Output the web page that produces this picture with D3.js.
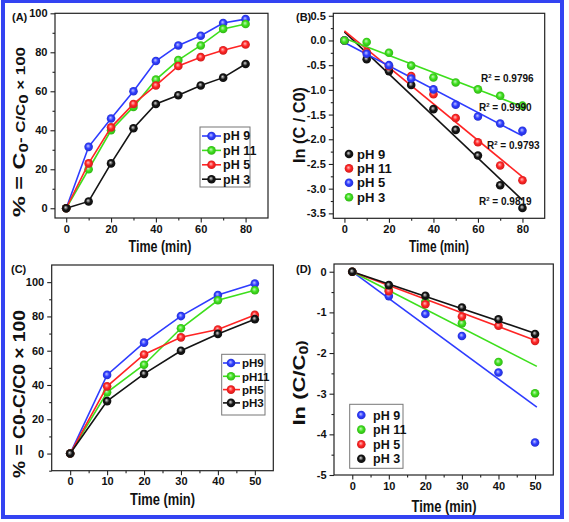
<!DOCTYPE html>
<html><head><meta charset="utf-8">
<script src="https://cdn.jsdelivr.net/npm/d3@7"></script>
<style>
body{margin:0;background:#fff}
svg{display:block}
text{font-family:"Liberation Sans Narrow","Arial Narrow","Liberation Sans",Arial,sans-serif;font-weight:bold;fill:#111}
</style>
</head><body>
<svg id="c" width="569" height="522"></svg>
<script>
// ---------- Panel A ----------
const timeA = [0,10,20,30,40,50,60,70,80];
const namesA = ["pH 9","pH 11","pH 5","pH 3"];
const pH9_A  = [0,31.5,46,60,75.5,83.5,88.5,95,97];
const pH11_A = [0,20,40,52,66,76,83.5,92,94.5];
const pH5_A  = [0,23,41.5,53.5,63,73,77.5,81,84];
const pH3_A  = [0,3.5,23,41,53.5,58,63,67,74];
const xTicksA = [0,20,40,60,80];
const yTicksA = [0,20,40,60,80,100];
// ---------- Panel B ----------
const timeB = [0,10,20,30,40,50,60,70,80];
const namesB = ["pH 9","pH 11","pH 5","pH 3"];
const pH9_B  = [0,-0.38,-0.62,-0.9,-1.39,-1.81,-2.33,-2.93,-3.39];
const pH11_B = [0,-0.23,-0.52,-0.72,-1.09,-1.57,-2.06,-2.53,-2.83];
const pH5_B  = [0,-0.27,-0.5,-0.77,-0.99,-1.3,-1.54,-1.68,-1.83];
const pH3_B  = [0,-0.03,-0.25,-0.51,-0.75,-0.85,-0.99,-1.12,-1.32];
const r2B = ["0.9819","0.9793","0.9990","0.9796"];
const xTicksB = [0,20,40,60,80];
const yTicksB = [0.5,0,-0.5,-1,-1.5,-2,-2.5,-3,-3.5];
// ---------- Panel C ----------
const timeC = [0,10,20,30,40,50];
const namesC = ["pH9","pH11","pH5","pH3"];
const pH9_C  = [0,45.9,64.7,80.2,92.5,99.2];
const pH11_C = [0,35.7,51.8,73.1,89.4,95.3];
const pH5_C  = [0,39.2,57.8,67.8,72.4,80.9];
const pH3_C  = [0,30.6,46.5,60,69.8,78.4];
const xTicksC = [0,10,20,30,40,50];
const yTicksC = [0,20,40,60,80,100];
// ---------- Panel D ----------
const timeD = [0,10,20,30,40,50];
const namesD = ["pH 9","pH 11","pH 5","pH 3"];
const pH9_D  = [0,-0.6,-1.04,-1.58,-2.48,-4.2];
const pH11_D = [0,-0.45,-0.74,-1.27,-2.22,-2.99];
const pH5_D  = [0,-0.48,-0.8,-1.1,-1.33,-1.7];
const pH3_D  = [0,-0.33,-0.59,-0.88,-1.17,-1.53];
const slopeD = [-0.066,-0.0461,-0.0337,-0.0303];
const fitEndD = 50.5;
const xTicksD = [0,10,20,30,40,50];
const yTicksD = [0,-1,-2,-3,-4,-5];

const C = {blue:"#2e3cff", green:"#3ddf1c", red:"#ff2424", black:"#141414"};

const svg = d3.select("#c");
const defs = svg.append("defs");
Object.entries(C).forEach(([k,col])=>{
  const g = defs.append("radialGradient").attr("id","g-"+k)
    .attr("cx","50%").attr("cy","50%").attr("r","55%").attr("fx","42%").attr("fy","38%");
  g.append("stop").attr("offset","0%").attr("stop-color", d3.interpolateRgb(col,"#fff")(k==="black"?0.85:0.7));
  g.append("stop").attr("offset","50%").attr("stop-color", col);
  g.append("stop").attr("offset","100%").attr("stop-color", d3.color(col).darker(0.7));
});

// outer blue frame
svg.append("rect").attr("x",3).attr("y",1).attr("width",559).attr("height",516)
  .attr("fill","none").attr("stroke","#3343f2").attr("stroke-width",4);

const R = 4.3;
function ball(g,cx,cy,key){
  g.append("circle").attr("cx",cx).attr("cy",cy).attr("r",R).attr("fill",`url(#g-${key})`);
}

function panel(o){
  const x = d3.scaleLinear().domain(o.xd).range([o.L,o.R]);
  const y = d3.scaleLinear().domain(o.yd).range([o.B,o.T]);
  const g = svg.append("g");
  // minor ticks
  g.append("g").attr("transform",`translate(0,${o.B})`)
    .call(d3.axisBottom(x).tickValues(o.xm).tickSize(2.5).tickSizeOuter(0).tickFormat(""))
    .call(s=>s.select(".domain").remove());
  g.append("g").attr("transform",`translate(${o.L},0)`)
    .call(d3.axisLeft(y).tickValues(o.ym).tickSize(2.5).tickSizeOuter(0).tickFormat(""))
    .call(s=>s.select(".domain").remove());
  // major
  const xa = g.append("g").attr("transform",`translate(0,${o.B})`)
    .call(d3.axisBottom(x).tickValues(o.xt).tickSize(4.5).tickSizeOuter(0).tickPadding(2.5).tickFormat(o.xf));
  const ya = g.append("g").attr("transform",`translate(${o.L},0)`)
    .call(d3.axisLeft(y).tickValues(o.yt).tickSize(4.5).tickSizeOuter(0).tickPadding(3).tickFormat(o.yf));
  [xa,ya].forEach(a=>{
    a.select(".domain").remove();
    a.selectAll("text").attr("font-size",11).attr("fill","#111").style("font-family",null);
  });
  g.selectAll("line").attr("stroke","#222").attr("stroke-width",1.1);
  g.append("rect").attr("x",o.L).attr("y",o.T).attr("width",o.R-o.L).attr("height",o.B-o.T)
    .attr("fill","none").attr("stroke","#222").attr("stroke-width",1.2);
  // panel label
  g.append("text").attr("x",o.lab[0]).attr("y",o.lab[1]).attr("font-size",11).text(o.label);
  // x title
  g.append("text").attr("x",o.xtp[0]).attr("y",o.xtp[1]).attr("text-anchor","middle")
    .attr("font-size",16).attr("textLength",o.xtp[2]).attr("lengthAdjust","spacingAndGlyphs").text("Time (min)");
  // y title
  const yt = g.append("text").attr("transform",`translate(${o.ytp[0]},${o.ytp[1]}) rotate(-90)`)
    .attr("text-anchor","middle").attr("font-size",o.ytp[3]).attr("textLength",o.ytp[2]).attr("lengthAdjust","spacingAndGlyphs");
  o.ytitle.forEach(p=>{
    const t = yt.append("tspan").text(p.t);
    if(p.sub) t.attr("font-size",o.ytp[3]*0.72).attr("dy",p.sub);
  });
  return {g,x,y};
}
const fmtInt = d=>String(d);
const fmt1 = d=>d.toFixed(1);

// ---------- A ----------
{
  const {g,x,y} = panel({L:55,R:268,T:13.3,B:218,xd:[-5,90],yd:[-5,100],
    xt:xTicksA,xm:[10,30,50,70],yt:yTicksA,ym:[10,30,50,70,90],xf:fmtInt,yf:fmtInt,
    label:"(A)",lab:[12,21],xtp:[160,252,63],ytp:[25,132,170,17],
    ytitle:[{t:"% = C"},{t:"0",sub:3},{t:"- C/C",sub:-3},{t:"0",sub:3},{t:" × 100",sub:-3}]});
  const ser = [[pH9_A,"blue"],[pH11_A,"green"],[pH5_A,"red"],[pH3_A,"black"]];
  const line = d3.line().x((d,i)=>x(timeA[i])).y(d=>y(d));
  ser.forEach(([v,k])=>{
    g.append("path").attr("d",line(v)).attr("fill","none").attr("stroke",C[k]).attr("stroke-width",1.6);
    v.forEach((d,i)=>ball(g,x(timeA[i]),y(d),k));
  });
  const lg = g.append("g");
  lg.append("rect").attr("x",200).attr("y",127).attr("width",50).attr("height",60)
    .attr("fill","#fff").attr("stroke","#777").attr("stroke-width",1);
  ser.forEach(([v,k],i)=>{
    const yy = 136 + i*14.4;
    lg.append("line").attr("x1",202).attr("x2",221).attr("y1",yy).attr("y2",yy).attr("stroke",C[k]).attr("stroke-width",1.6);
    ball(lg,211.5,yy,k);
    lg.append("text").attr("x",223).attr("y",yy+4.3).attr("font-size",12.5).text(namesA[i]);
  });
}
// ---------- B ----------
{
  const {g,x,y} = panel({L:333.3,R:544.7,T:13.3,B:218.3,xd:[-5,90],yd:[-3.6,0.55],
    xt:xTicksB,xm:[10,30,50,70],yt:yTicksB,ym:d3.range(-3.25,0.5,0.5),xf:fmtInt,yf:fmt1,
    label:"(B)",lab:[296,21],xtp:[439,252,60],ytp:[305,125,76,17],
    ytitle:[{t:"In (C / C0)"}]});
  const ser = [[pH9_B,"black"],[pH11_B,"red"],[pH5_B,"blue"],[pH3_B,"green"]];
  ser.forEach(([v,k])=>{
    const mx = d3.mean(timeB), my = d3.mean(v);
    const s = d3.sum(timeB,(t,i)=>(t-mx)*(v[i]-my))/d3.sum(timeB,t=>(t-mx)*(t-mx));
    const b = my - s*mx;
    g.append("line").attr("x1",x(0)).attr("y1",y(b)).attr("x2",x(80)).attr("y2",y(b+s*80))
      .attr("stroke",C[k]).attr("stroke-width",1.6);
  });
  ser.forEach(([v,k])=>v.forEach((d,i)=>ball(g,x(timeB[i]),y(d),k)));
  // R^2 labels
  const rpos = [[479,205],[487,149],[479,111],[481,82]];
  r2B.forEach((r,i)=>{
    const t = g.append("text").attr("x",rpos[i][0]).attr("y",rpos[i][1]).attr("font-size",10);
    t.append("tspan").text("R");
    t.append("tspan").text("2").attr("font-size",6).attr("dy",-4);
    t.append("tspan").text(" = "+r).attr("dy",4);
  });
  ser.forEach(([v,k],i)=>{
    const yy = 154 + i*14.4;
    ball(g,349,yy,k);
    g.append("text").attr("x",357).attr("y",yy+4.5).attr("font-size",13).text(namesB[i]);
  });
}
// ---------- C ----------
{
  const {g,x,y} = panel({L:51.7,R:273.3,T:265,B:470.7,xd:[-5,55],yd:[-10,110],
    xt:xTicksC,xm:[5,15,25,35,45],yt:yTicksC,ym:[-10,10,30,50,70,90],xf:fmtInt,yf:fmtInt,
    label:"(C)",lab:[11,273],xtp:[162.5,505,65],ytp:[25,394,168,17],
    ytitle:[{t:"% = C0-C/C0 × 100"}]});
  const ser = [[pH9_C,"blue"],[pH11_C,"green"],[pH5_C,"red"],[pH3_C,"black"]];
  const line = d3.line().x((d,i)=>x(timeC[i])).y(d=>y(d));
  ser.forEach(([v,k])=>{
    g.append("path").attr("d",line(v)).attr("fill","none").attr("stroke",C[k]).attr("stroke-width",1.6);
    v.forEach((d,i)=>ball(g,x(timeC[i]),y(d),k));
  });
  const lg = g.append("g");
  lg.append("rect").attr("x",221.7).attr("y",354.3).attr("width",43.3).attr("height",60.7)
    .attr("fill","#fff").attr("stroke","#777").attr("stroke-width",1);
  ser.forEach(([v,k],i)=>{
    const yy = 363 + i*13.3;
    lg.append("line").attr("x1",223).attr("x2",240).attr("y1",yy).attr("y2",yy).attr("stroke",C[k]).attr("stroke-width",1.6);
    ball(lg,231,yy,k);
    lg.append("text").attr("x",242).attr("y",yy+4.2).attr("font-size",11.5).text(namesC[i]);
  });
}
// ---------- D ----------
{
  const {g,x,y} = panel({L:334,R:553.3,T:264,B:475,xd:[-5,55],yd:[-5,0.19],
    xt:xTicksD,xm:[5,15,25,35,45],yt:yTicksD,ym:[-0.5,-1.5,-2.5,-3.5,-4.5],xf:fmtInt,yf:fmtInt,
    label:"(D)",lab:[296,273],xtp:[444,512,65],ytp:[305,383,85,17],
    ytitle:[{t:"In (C/C"},{t:"0",sub:3},{t:")",sub:-3}]});
  const ser = [[pH9_D,"blue"],[pH11_D,"green"],[pH5_D,"red"],[pH3_D,"black"]];
  ser.forEach(([v,k],i)=>{
    g.append("line").attr("x1",x(0)).attr("y1",y(0)).attr("x2",x(fitEndD)).attr("y2",y(slopeD[i]*fitEndD))
      .attr("stroke",C[k]).attr("stroke-width",1.6);
  });
  ser.forEach(([v,k])=>v.forEach((d,i)=>ball(g,x(timeD[i]),y(d),k)));
  const lg = g.append("g");
  lg.append("rect").attr("x",349.7).attr("y",404.3).attr("width",53.3).attr("height",64)
    .attr("fill","#fff").attr("stroke","#777").attr("stroke-width",1);
  ser.forEach(([v,k],i)=>{
    const yy = 415 + i*14.6;
    ball(lg,361.3,yy,k);
    lg.append("text").attr("x",373).attr("y",yy+4.5).attr("font-size",12.5).text(namesD[i]);
  });
}
</script>
</body></html>
